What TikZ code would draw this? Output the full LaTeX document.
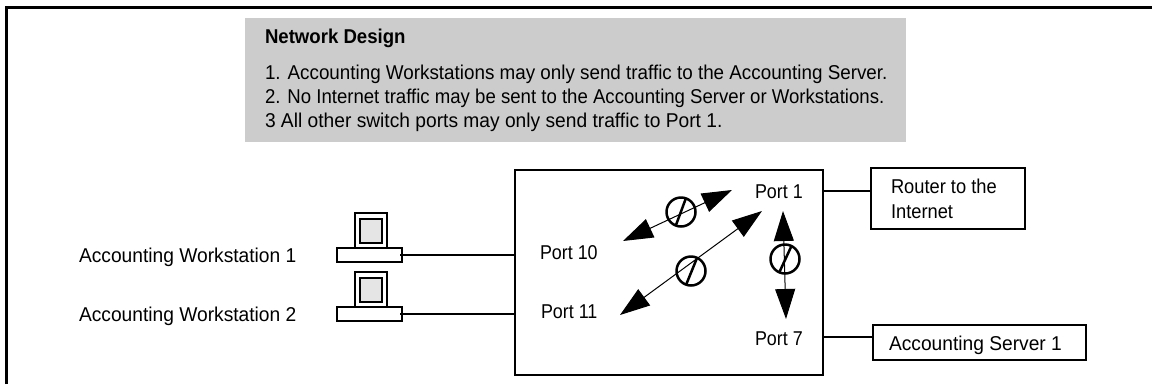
\documentclass[tikz,border=0pt]{standalone}
\usepackage{fontspec}
\setmainfont{Liberation Sans}
\newfontfamily\fontlabel[FakeStretch=0.96]{Liberation Sans}
\newfontfamily\fontport[FakeStretch=0.895]{Liberation Sans}
\newfontfamily\fontnote[FakeStretch=0.941]{Liberation Sans}
\newfontfamily\fontnotes[FakeStretch=0.93]{Liberation Sans}
\newfontfamily\fontrouter[FakeStretch=0.915]{Liberation Sans}
\newfontfamily\fonthead[FakeStretch=0.93]{Liberation Sans Bold}
\usetikzlibrary{arrows.meta}
\tikzset{
  x=1pt,y=-1pt,
  lbl/.style={anchor=base west,inner sep=0pt,outer sep=0pt,text=black,font=\fontsize{20}{24}\selectfont\fontlabel},
  port/.style={lbl,font=\fontsize{20}{24}\selectfont\fontport},
  note/.style={lbl,font=\fontsize{20}{24}\selectfont\fontnote},
  notes/.style={lbl,font=\fontsize{20}{24}\selectfont\fontnotes},
  rtr/.style={lbl,font=\fontsize{20}{24}\selectfont\fontrouter},
  head/.style={lbl,font=\fontsize{20}{24}\selectfont\fonthead},
  box/.style={draw=black,line width=2pt,fill=white,anchor=north west,inner sep=0pt,outer sep=0pt},
  conn/.style={draw=black,line width=1.7pt},
  flow/.style={draw=black,line width=1pt,{Triangle[length=30pt,width=20pt]}-{Triangle[length=30pt,width=20pt]}},
  nosign/.style={circle,draw=black,line width=2.5pt,fill=none,minimum size=29pt,inner sep=0pt},
  slash/.style={draw=black,line width=2.5pt},
}
\newcommand{\boxat}[5]{\node[box,minimum width=#3pt,minimum height=#4pt] (#5) at (#1,#2) {};}
\begin{document}
\begin{tikzpicture}
\useasboundingbox (0,0) rectangle (1152,384);
\draw[black,line width=3pt] (6.5,384) -- (6.5,7) -- (1152,7);
\fill[black!20] (245,18) rectangle (906,142);
\node[head] (title) at (265,43) {Network Design};
\node[note] (l1) at (265,79) {1. Accounting Workstations may only send traffic to the Accounting Server.};
\node[notes] (l2) at (265,103) {2. No Internet traffic may be sent to the Accounting Server or Workstations.};
\node[lbl] (l3) at (265,127) {3 All other switch ports may only send traffic to Port 1.};
% switch
\boxat{515}{170}{308}{205}{switch}
\boxat{871}{168}{154}{61}{router}
\boxat{873}{325}{213}{35}{server}
\node[rtr] (rt1) at (891,193) {Router to the};
\node[rtr] (rt2) at (891,218) {Internet};
\node[lbl] (srv) at (889,350) {Accounting Server 1};
\node[port] (p1) at (755,198) {Port 1};
\node[port] (p10) at (540,259) {Port 10};
\node[port] (p11) at (541,318) {Port 11};
\node[port] (p7) at (755,345) {Port 7};
\node[lbl] (w1) at (79,262) {Accounting Workstation 1};
\node[lbl] (w2) at (79,321) {Accounting Workstation 2};
% workstations
\boxat{337}{248}{65}{14}{base1}
\boxat{355}{213}{32}{35}{mon1}
\node[box,fill=black!10,minimum width=22pt,minimum height=24pt] (scr1) at (360,219) {};
\boxat{337}{307}{65}{14}{base2}
\boxat{355}{272}{32}{35}{mon2}
\node[box,fill=black!10,minimum width=22pt,minimum height=24pt] (scr2) at (360,278) {};
% connectors
\coordinate (s1) at (823,191);
\coordinate (r1) at (871,191);
\coordinate (s7) at (823,337);
\coordinate (sv) at (873,337);
\coordinate (b1) at (400,255);
\coordinate (sw1) at (515,255);
\coordinate (b2) at (400,314);
\coordinate (sw2) at (515,314);
\draw[conn] (s1) -- (r1);
\draw[conn] (s7) -- (sv);
\draw[conn] (b1) -- (sw1);
\draw[conn] (b2) -- (sw2);
% arrows
\coordinate (a1s) at (623,241); \coordinate (a1e) at (732,190);
\coordinate (a2s) at (620,315); \coordinate (a2e) at (762,211);
\coordinate (a3s) at (786,319); \coordinate (a3e) at (783,211);
\draw[flow] (a1s) -- (a1e);
\draw[flow] (a2s) -- (a2e);
\draw[flow] (a3s) -- (a3e);
\node[nosign] (n1) at (681,212) {};
\node[nosign] (n2) at (691,271) {};
\node[nosign] (n3) at (785,259) {};
\draw[slash] (676,225) -- (686,198);
\draw[slash] (686,285) -- (697,258);
\draw[slash] (779,273) -- (791,247);
\end{tikzpicture}
\end{document}
